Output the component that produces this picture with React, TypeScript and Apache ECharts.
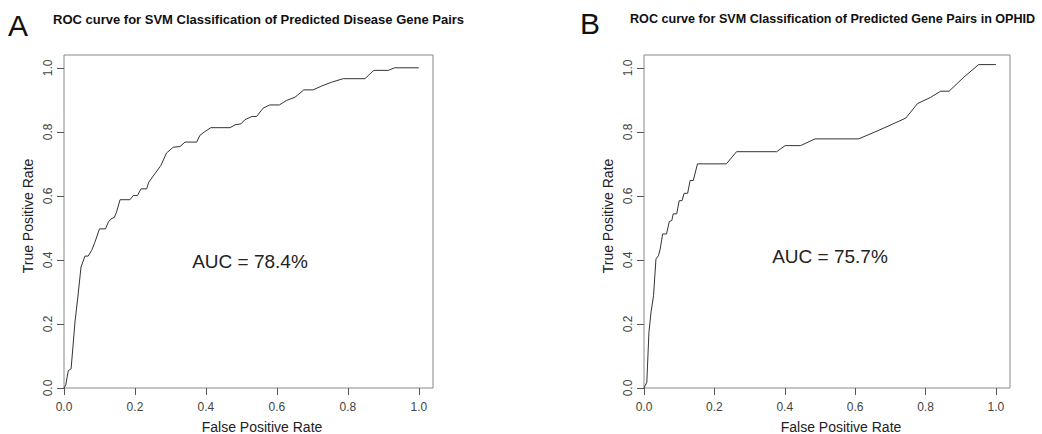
import React, { useEffect, useRef } from "react";
import * as echarts from "echarts";

const tickValues = [0, 0.2, 0.4, 0.6, 0.8, 1.0];

const leftFpr = [
  0, 0.005, 0.012, 0.02, 0.031, 0.039, 0.048, 0.059, 0.068, 0.078,
  0.087, 0.1, 0.117, 0.125, 0.132, 0.142, 0.148, 0.158, 0.186, 0.195,
  0.207, 0.217, 0.233, 0.239, 0.256, 0.273, 0.289, 0.308, 0.327, 0.341,
  0.374, 0.383, 0.397, 0.414, 0.468, 0.482, 0.499, 0.51, 0.53, 0.543,
  0.561, 0.58, 0.607, 0.627, 0.651, 0.676, 0.702, 0.726, 0.754, 0.787,
  0.848, 0.873, 0.914, 0.932, 1.0,
];
const leftTpr = [
  0, 0.01, 0.054, 0.06, 0.206, 0.284, 0.378, 0.412, 0.412, 0.43,
  0.455, 0.497, 0.497, 0.518, 0.528, 0.533, 0.549, 0.588, 0.588, 0.601,
  0.601, 0.622, 0.622, 0.643, 0.669, 0.695, 0.734, 0.752, 0.754, 0.768,
  0.768, 0.789, 0.801, 0.813, 0.813, 0.822, 0.825, 0.838, 0.848, 0.848,
  0.874, 0.884, 0.884, 0.898, 0.908, 0.931, 0.931, 0.943, 0.955, 0.966,
  0.966, 0.992, 0.992, 1.0, 1.0,
];

const rightFpr = [
  0, 0.008, 0.014, 0.02, 0.027, 0.034, 0.041, 0.046, 0.053, 0.064,
  0.072, 0.079, 0.083, 0.093, 0.1, 0.108, 0.114, 0.124, 0.131, 0.14,
  0.152, 0.234, 0.263, 0.377, 0.401, 0.445, 0.486, 0.61, 0.655, 0.702,
  0.744, 0.777, 0.815, 0.843, 0.867, 0.909, 0.951, 1.0,
];
const rightTpr = [
  0, 0.018, 0.174, 0.237, 0.288, 0.403, 0.413, 0.434, 0.481, 0.481,
  0.52, 0.523, 0.544, 0.544, 0.585, 0.585, 0.608, 0.608, 0.648, 0.648,
  0.7, 0.7, 0.738, 0.738, 0.757, 0.757, 0.778, 0.778, 0.799, 0.822,
  0.843, 0.888, 0.908, 0.927, 0.927, 0.971, 1.01, 1.01,
];

const titleA = "ROC curve for SVM Classification of Predicted Disease Gene Pairs";
const titleB = "ROC curve for SVM Classification of Predicted Gene Pairs in OPHID";
const aucA = "AUC = 78.4%";
const aucB = "AUC = 75.7%";
const xName = "False Positive Rate";
const yName = "True Positive Rate";

const FONT = "'Liberation Sans', Arial, sans-serif";

function zip(xs: number[], ys: number[]) {
  return xs.map((x, i) => [x, ys[i]]);
}

function makeX(gridIndex: number) {
  return {
    type: "value",
    gridIndex,
    min: 0,
    max: 1.04,
    axisLine: { show: false },
    splitLine: { show: false },
    axisTick: {
      show: true,
      length: 7,
      customValues: tickValues,
      lineStyle: { color: "#555", width: 1 },
    },
    axisLabel: {
      customValues: tickValues,
      formatter: (v: number) => v.toFixed(1),
      color: "#444",
      fontSize: 12,
      fontFamily: FONT,
      margin: 13,
    },
  };
}

function makeY(gridIndex: number) {
  return {
    type: "value",
    gridIndex,
    min: 0,
    max: 1.04,
    axisLine: { show: false },
    splitLine: { show: false },
    axisTick: {
      show: true,
      length: 7,
      customValues: tickValues,
      lineStyle: { color: "#555", width: 1 },
    },
    axisLabel: {
      customValues: tickValues,
      formatter: (v: number) => v.toFixed(1),
      rotate: 90,
      color: "#444",
      fontSize: 12,
      fontFamily: FONT,
      margin: 10,
    },
  };
}

export default function App() {
  const ref = useRef<HTMLDivElement>(null);
  useEffect(() => {
    if (!ref.current) return;
    const chart = echarts.init(ref.current, undefined, { renderer: "svg" });
    const txt = (
      text: string,
      x: number,
      y: number,
      fontSize: number,
      opts: any = {}
    ) => ({
      type: "text",
      x,
      y,
      rotation: opts.rotation || 0,
      style: {
        text,
        fontSize,
        fontFamily: FONT,
        fontWeight: opts.bold ? "bold" : "normal",
        fill: opts.fill || "#222",
        align: opts.align || "center",
        verticalAlign: "middle",
      },
    });
    chart.setOption({
      animation: false,
      backgroundColor: "#fff",
      grid: [
        { left: 64, top: 55, width: 369, height: 333, show: true, borderColor: "#888", borderWidth: 1, backgroundColor: "transparent" },
        { left: 644, top: 55, width: 366, height: 333, show: true, borderColor: "#888", borderWidth: 1, backgroundColor: "transparent" },
      ],
      xAxis: [makeX(0), makeX(1)],
      yAxis: [makeY(0), makeY(1)],
      series: [
        {
          type: "line",
          xAxisIndex: 0,
          yAxisIndex: 0,
          data: zip(leftFpr, leftTpr),
          showSymbol: false,
          lineStyle: { color: "#333", width: 1 },
        },
        {
          type: "line",
          xAxisIndex: 1,
          yAxisIndex: 1,
          data: zip(rightFpr, rightTpr),
          showSymbol: false,
          lineStyle: { color: "#333", width: 1 },
        },
      ],
      graphic: [
        txt("A", 8, 25, 30, { align: "left", fill: "#111" }),
        txt("B", 580, 23, 30, { align: "left", fill: "#111" }),
        txt(titleA, 53, 19, 13, { bold: true, fill: "#111", align: "left" }),
        txt(titleB, 630, 19, 12.6, { bold: true, fill: "#111", align: "left" }),
        txt(aucA, 250, 261, 19, { fill: "#222" }),
        txt(aucB, 830, 256, 19, { fill: "#222" }),
        txt(xName, 262, 427, 14, { fill: "#222" }),
        txt(xName, 841, 427, 14, { fill: "#222" }),
        txt(yName, 28, 216, 14, { fill: "#222", rotation: Math.PI / 2 }),
        txt(yName, 608, 216, 14, { fill: "#222", rotation: Math.PI / 2 }),
      ],
    });
    return () => chart.dispose();
  }, []);
  return (
    <div
      ref={ref}
      style={{ position: "fixed", left: 0, top: 0, width: 1042, height: 434, background: "#fff" }}
    />
  );
}
